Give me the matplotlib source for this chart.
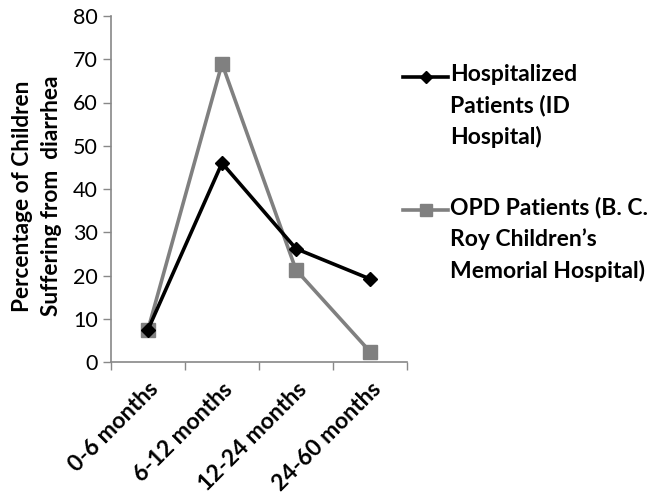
import matplotlib.pyplot as plt
from matplotlib.lines import Line2D

plt.rcParams['font.family'] = ['Lato', 'DejaVu Sans']

# data
age_groups = ["0-6 months", "6-12 months", "12-24 months", "24-60 months"]
hospitalized = [7.5, 46, 26.2, 19.2]
opd = [7.5, 69, 21.3, 2.4]
labels = ["Hospitalized\nPatients (ID\nHospital)",
          "OPD Patients (B. C.\nRoy Children\u2019s\nMemorial Hospital)"]

W, H = 651, 496
fig = plt.figure(figsize=(W / 100, H / 100), dpi=100)
ax = fig.add_axes([111 / W, 1 - 362 / H, (407 - 111) / W, (362 - 16) / H])

x = list(range(len(age_groups)))
ax.plot(x, opd, color="#808080", lw=2.6, marker="s", ms=10, zorder=2)
ax.plot(x, hospitalized, color="black", lw=2.6, marker="D", ms=7, zorder=3)

ax.set_xlim(-0.5, len(age_groups) - 0.5)
ax.set_ylim(0, 80)
ax.set_yticks(range(0, 81, 10))
ax.tick_params(axis="y", labelsize=15.5, color="#888888", length=6, width=1)
ax.set_xticks([i - 0.5 for i in range(len(age_groups) + 1)])
ax.set_xticklabels([])
ax.set_xticks(x, minor=True)
ax.set_xticklabels(age_groups, minor=True, rotation=45, ha="right", va="top",
                   rotation_mode="anchor", fontsize=16.5, fontweight="bold")
ax.tick_params(axis="x", which="major", color="#888888", length=6, width=1)
ax.tick_params(axis="x", which="minor", length=0, pad=12)

for s in ["top", "right"]:
    ax.spines[s].set_visible(False)
for s in ["left", "bottom"]:
    ax.spines[s].set_color("#888888")
    ax.spines[s].set_linewidth(1.2)

fig.text(37 / W, 1 - 196 / H, "Percentage of Children\nSuffering from  diarrhea",
         rotation=90, ha="center", va="center", multialignment="center",
         fontsize=16.3, fontweight="bold", linespacing=1.45)

# legend drawn by hand so the key sits on the first text line
styles = [dict(color="black", marker="D", ms=6), dict(color="#808080", marker="s", ms=9)]
for i, (lab, st) in enumerate(zip(labels, styles)):
    yl = 1 - (77 + i * 133) / H
    fig.add_artist(Line2D([403 / W, 448 / W], [yl, yl], lw=2.6, color=st["color"],
                          transform=fig.transFigure))
    fig.add_artist(Line2D([425.5 / W], [yl], marker=st["marker"], ms=st["ms"],
                          color=st["color"], transform=fig.transFigure))
    fig.text(450 / W, yl + 13 / H, lab, ha="left", va="top", fontsize=16.5,
             fontweight="bold", linespacing=1.55)

fig.savefig("out.png", dpi=100)
